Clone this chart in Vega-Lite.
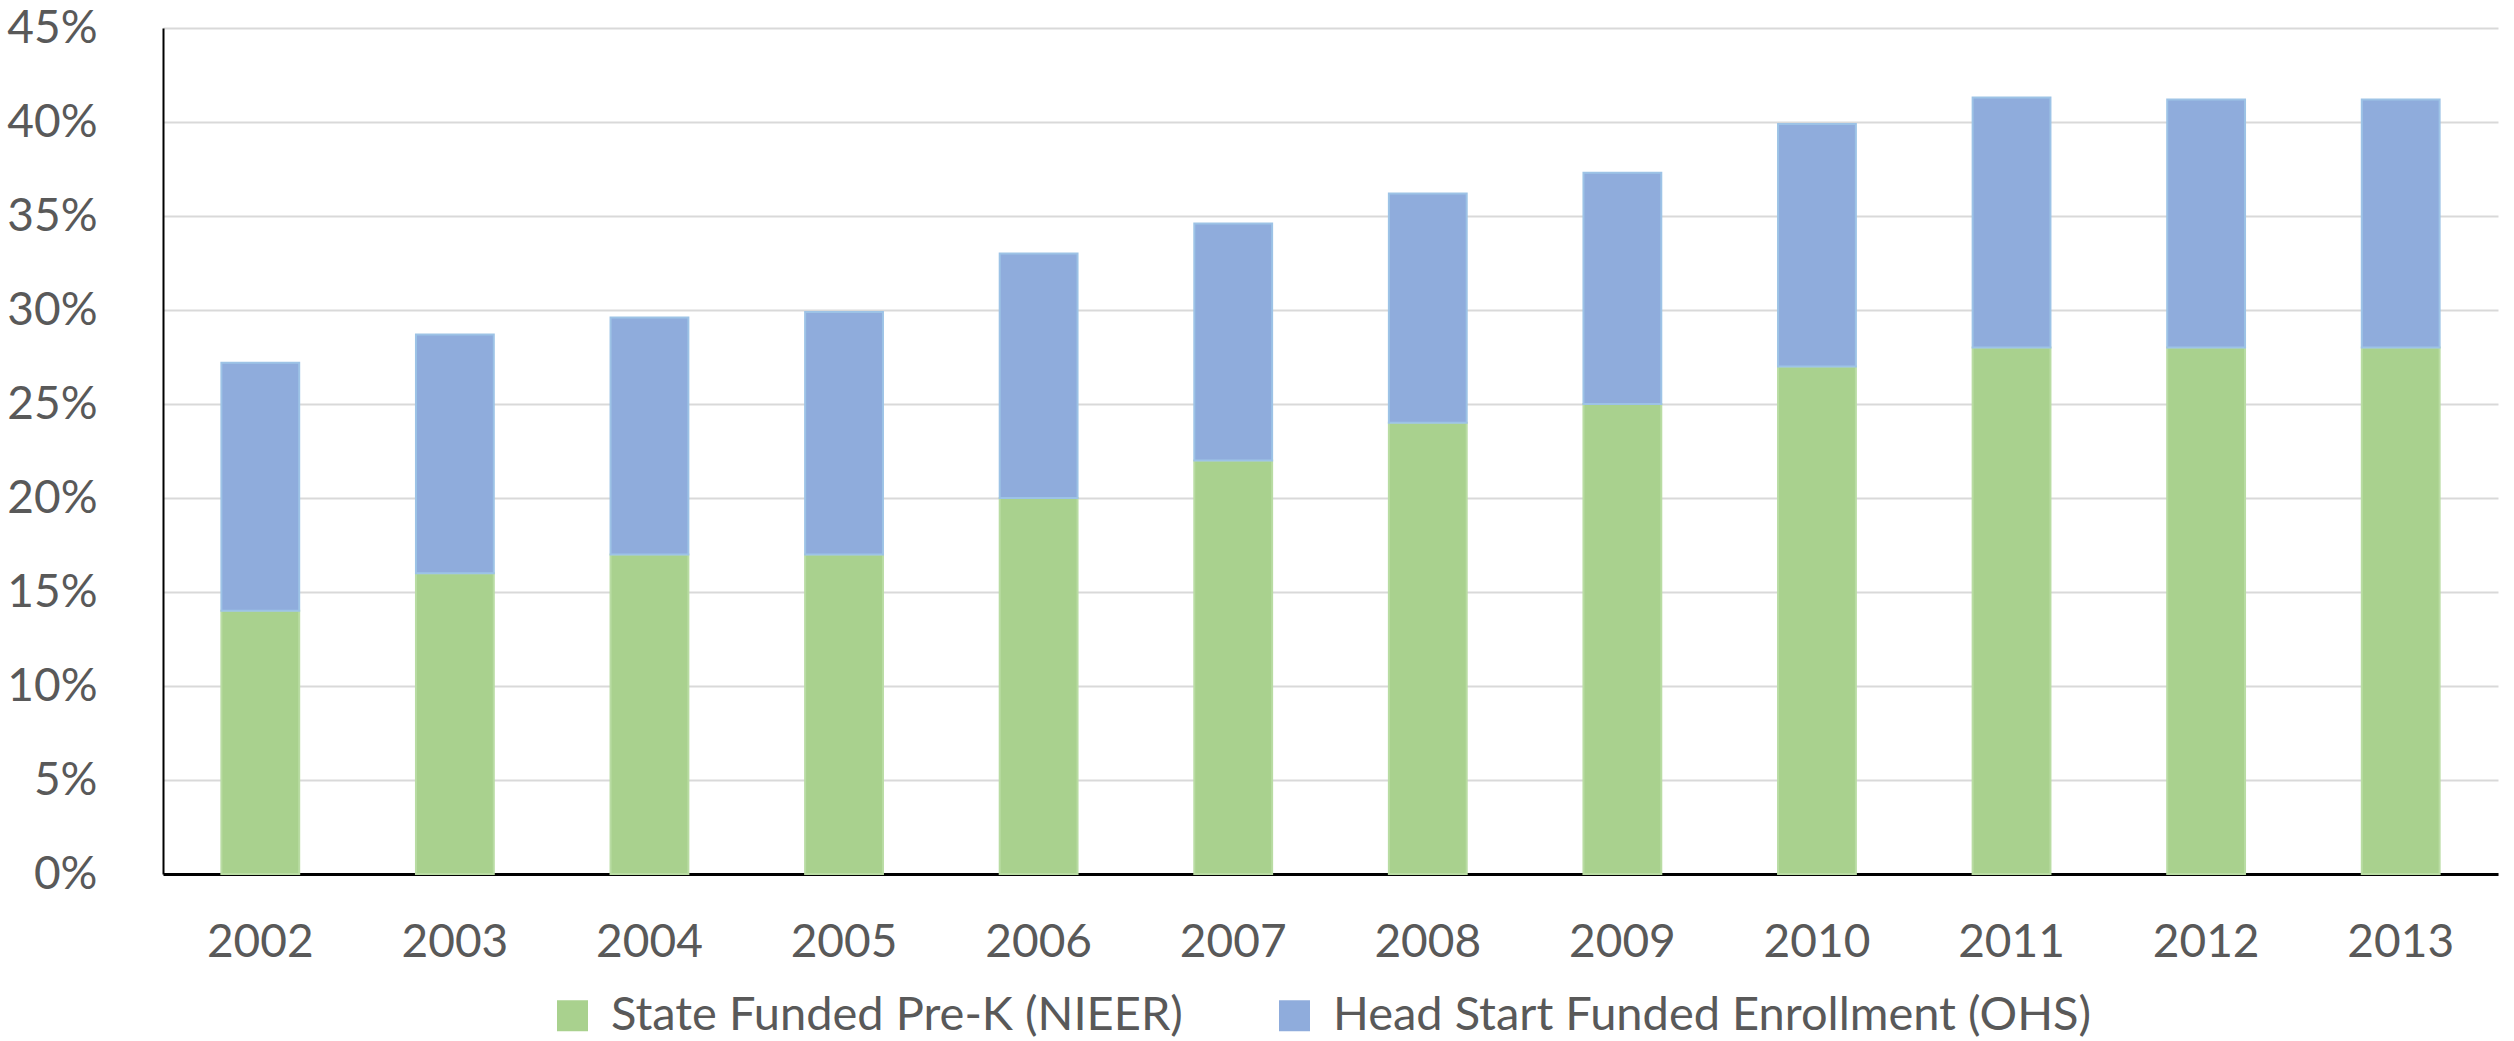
{
  "$schema": "https://vega.github.io/schema/vega-lite/v6.json",
  "autosize": {"type": "none"},
  "width": 2335,
  "height": 846,
  "padding": {"left": 163, "top": 28, "right": 16, "bottom": 167},
  "background": "white",
  "config": {
    "view": {"stroke": null},
    "font": "Lato"
  },
  "data": {
    "values": [
      {"year": "2002", "series": "State Funded Pre-K (NIEER)", "value": 0.14},
      {"year": "2003", "series": "State Funded Pre-K (NIEER)", "value": 0.16},
      {"year": "2004", "series": "State Funded Pre-K (NIEER)", "value": 0.17},
      {"year": "2005", "series": "State Funded Pre-K (NIEER)", "value": 0.17},
      {"year": "2006", "series": "State Funded Pre-K (NIEER)", "value": 0.20},
      {"year": "2007", "series": "State Funded Pre-K (NIEER)", "value": 0.22},
      {"year": "2008", "series": "State Funded Pre-K (NIEER)", "value": 0.24},
      {"year": "2009", "series": "State Funded Pre-K (NIEER)", "value": 0.25},
      {"year": "2010", "series": "State Funded Pre-K (NIEER)", "value": 0.27},
      {"year": "2011", "series": "State Funded Pre-K (NIEER)", "value": 0.28},
      {"year": "2012", "series": "State Funded Pre-K (NIEER)", "value": 0.28},
      {"year": "2013", "series": "State Funded Pre-K (NIEER)", "value": 0.28},
      {"year": "2002", "series": "Head Start Funded Enrollment (OHS)", "value": 0.132},
      {"year": "2003", "series": "Head Start Funded Enrollment (OHS)", "value": 0.127},
      {"year": "2004", "series": "Head Start Funded Enrollment (OHS)", "value": 0.126},
      {"year": "2005", "series": "Head Start Funded Enrollment (OHS)", "value": 0.129},
      {"year": "2006", "series": "Head Start Funded Enrollment (OHS)", "value": 0.130},
      {"year": "2007", "series": "Head Start Funded Enrollment (OHS)", "value": 0.126},
      {"year": "2008", "series": "Head Start Funded Enrollment (OHS)", "value": 0.122},
      {"year": "2009", "series": "Head Start Funded Enrollment (OHS)", "value": 0.123},
      {"year": "2010", "series": "Head Start Funded Enrollment (OHS)", "value": 0.129},
      {"year": "2011", "series": "Head Start Funded Enrollment (OHS)", "value": 0.133},
      {"year": "2012", "series": "Head Start Funded Enrollment (OHS)", "value": 0.132},
      {"year": "2013", "series": "Head Start Funded Enrollment (OHS)", "value": 0.132}
    ]
  },
  "mark": {"type": "bar", "strokeWidth": 2},
  "encoding": {
    "x": {
      "field": "year",
      "type": "nominal",
      "sort": null,
      "scale": {"paddingInner": 0.6, "paddingOuter": 0.3},
      "axis": {
        "title": null,
        "labelAngle": 0,
        "labelFont": "Lato",
        "labelFontSize": 46,
        "labelColor": "#595959",
        "labelPadding": 46,
        "ticks": false,
        "domainColor": "#000000",
        "domainWidth": 3,
        "grid": false
      }
    },
    "y": {
      "field": "value",
      "type": "quantitative",
      "stack": "zero",
      "scale": {"domain": [0, 0.45], "nice": false},
      "axis": {
        "title": null,
        "format": ".0%",
        "values": [0, 0.05, 0.1, 0.15, 0.2, 0.25, 0.3, 0.35, 0.4, 0.45],
        "labelFont": "Lato",
        "labelFontSize": 46,
        "labelColor": "#595959",
        "labelPadding": 66,
        "ticks": false,
        "domainColor": "#000000",
        "domainWidth": 2,
        "gridColor": "#D9D9D9",
        "gridWidth": 2
      }
    },
    "color": {
      "field": "series",
      "type": "nominal",
      "scale": {
        "domain": ["State Funded Pre-K (NIEER)", "Head Start Funded Enrollment (OHS)"],
        "range": ["#A9D18E", "#8FACDC"]
      },
      "legend": {
        "title": null,
        "orient": "none",
        "direction": "horizontal",
        "legendX": 386,
        "legendY": 964,
        "symbolType": "square",
        "symbolSize": 961,
        "symbolStrokeWidth": 0,
        "labelFont": "Lato",
        "labelFontSize": 47,
        "labelLimit": 2000,
        "labelColor": "#595959",
        "labelOffset": 15,
        "columnPadding": 88,
        "padding": 0
      }
    },
    "stroke": {
      "field": "series",
      "type": "nominal",
      "scale": {
        "domain": ["State Funded Pre-K (NIEER)", "Head Start Funded Enrollment (OHS)"],
        "range": ["#B9DCA3", "#9DC3E6"]
      },
      "legend": null
    },
    "order": {"field": "series", "sort": "descending"}
  }
}
